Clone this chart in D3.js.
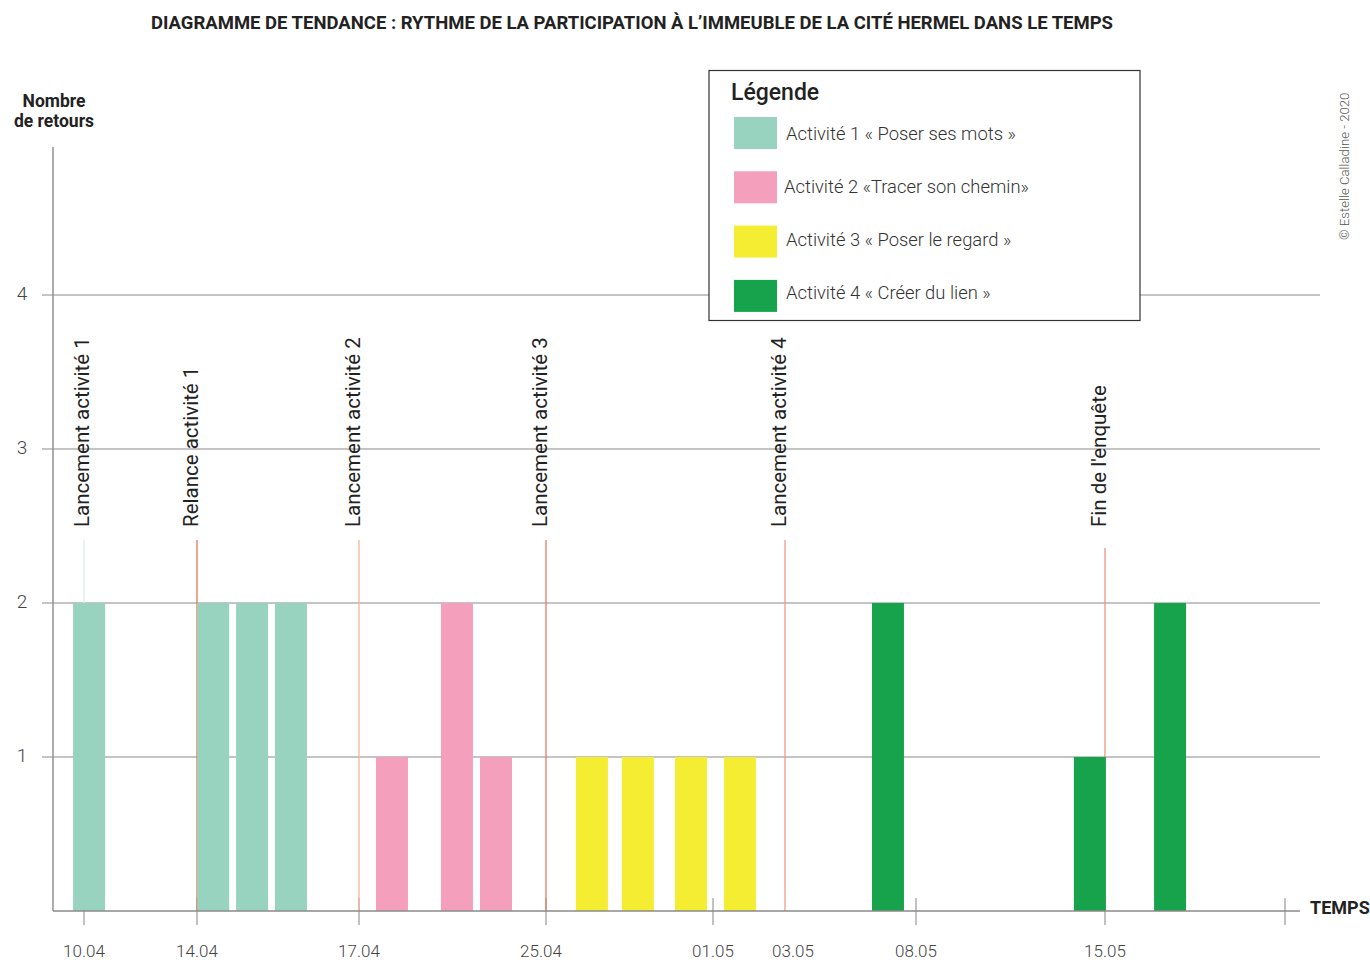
<!DOCTYPE html>
<html><head><meta charset="utf-8">
<script src="https://cdn.jsdelivr.net/npm/d3@7"></script>
<style>body{margin:0;background:#fff} svg{display:block} text{font-family:Roboto,"Noto Sans",sans-serif}</style>
</head><body>
<script>
// ---------- DATA ----------
const title = "DIAGRAMME DE TENDANCE : RYTHME DE LA PARTICIPATION À L’IMMEUBLE DE LA CITÉ HERMEL DANS LE TEMPS";
const yTitle = ["Nombre", "de retours"];
const xTitle = "TEMPS";
const credit = "© Estelle Calladine - 2020";
const activities = ["Activité 1 « Poser ses mots »", "Activité 2 «Tracer son chemin»", "Activité 3 « Poser le regard »", "Activité 4 « Créer du lien »"];
const tickLabels = ["10.04", "14.04", "17.04", "25.04", "01.05", "03.05", "08.05", "15.05", ""];
const tickDays   = [0, 4, 7, 15, 21, 23, 28, 35, 42];           // days after 10.04
const barDays    = [0.18, 4.3, 5.02, 5.74, 8.41, 11.19, 12.86, 16.65, 18.3, 20.21, 21.75, 26.93, 34.44, 37.53];
const barValues  = [2, 2, 2, 2, 1, 2, 1, 1, 1, 1, 1, 2, 1, 2];
const barActivity= [0, 0, 0, 0, 1, 1, 1, 2, 2, 2, 2, 3, 3, 3];
const eventLabels = ["Lancement activité 1", "Relance activité 1", "Lancement activité 2", "Lancement activité 3", "Lancement activité 4", "Fin de l'enquête"];
const eventDays   = [0, 4, 7, 15, 23, 35];
const yTicks = [1, 2, 3, 4];

// ---------- LAYOUT / STYLE ----------
const W = 1370, H = 960;
const activityColors = ["#98d3bf", "#f49fbb", "#f5ed31", "#17a34b"];
const eventColors = ["#dde9ec", "#e9735a", "#f8b3a0", "#ec7a60", "#f39a85", "#ef9480"];
const xStops = [84, 197, 359, 546, 713, 785, 916, 1105, 1285];
const untickedDays = [23];
const tickLabelDx = [0, 0, 0, -5, 0, 8, 0, 0, 0];
const eventLabelDx = [5, 1, 1, 1, 1, 1];
const barW = 32;

const svg = d3.select("body").append("svg").attr("width", W).attr("height", H);

const x = d3.scaleLinear().domain(tickDays).range(xStops);
const y = d3.scaleLinear().domain([0, 5]).range([911, 141]);

// title
svg.append("text").attr("x", 632).attr("y", 29).attr("text-anchor", "middle")
  .attr("font-size", 19).attr("font-weight", 700).attr("fill", "#222")
  .attr("textLength", 962).attr("lengthAdjust", "spacingAndGlyphs").text(title);

// y title
svg.append("g").selectAll("text").data(yTitle).join("text")
  .attr("text-anchor", "middle").attr("font-size", 17.5).attr("font-weight", 700).attr("fill", "#222")
  .attr("x", 54).attr("y", (d, i) => 107 + i * 20).text(d => d);

// gridlines
svg.append("g").selectAll("line").data(yTicks).join("line")
  .attr("x1", 42).attr("x2", 1320).attr("y1", d => y(d)).attr("y2", d => y(d))
  .attr("stroke", "#8a8a8a").attr("stroke-width", 1.2);
svg.append("g").selectAll("text").data(yTicks).join("text")
  .attr("x", 22).attr("y", d => y(d) + 5).attr("text-anchor", "middle")
  .attr("font-size", 19).attr("font-weight", 300).attr("fill", "#444").text(d => d);

// y axis
svg.append("line").attr("x1", 53).attr("x2", 53).attr("y1", 147).attr("y2", y(0))
  .attr("stroke", "#8a8a8a").attr("stroke-width", 1.4);

// ticks on x
svg.append("g").selectAll("line").data(tickDays.filter(d => !untickedDays.includes(d))).join("line")
  .attr("x1", d => x(d)).attr("x2", d => x(d)).attr("y1", 898).attr("y2", 925)
  .attr("stroke", "#999").attr("stroke-width", 1.2);

// event lines
svg.append("g").selectAll("line").data(eventDays).join("line")
  .attr("x1", d => x(d)).attr("x2", d => x(d))
  .attr("y1", (d, i) => i === eventDays.length - 1 ? 548 : 540).attr("y2", y(0))
  .attr("stroke", (d, i) => eventColors[i]).attr("stroke-width", 1.3);

// bars
svg.append("g").selectAll("rect").data(barDays).join("rect")
  .attr("x", d => x(d) - barW / 2).attr("width", barW)
  .attr("y", (d, i) => y(barValues[i])).attr("height", (d, i) => y(0) - y(barValues[i]))
  .attr("fill", (d, i) => activityColors[barActivity[i]]);

// x axis baseline
svg.append("line").attr("x1", 53).attr("x2", 1300).attr("y1", y(0)).attr("y2", y(0))
  .attr("stroke", "#8a8a8a").attr("stroke-width", 1.4);
svg.append("text").attr("x", 1310).attr("y", 914).attr("font-size", 18).attr("font-weight", 700)
  .attr("fill", "#222").text(xTitle);

// x tick labels
svg.append("g").selectAll("text").data(tickDays).join("text")
  .attr("x", (d, i) => x(d) + tickLabelDx[i]).attr("y", 957).attr("text-anchor", "middle")
  .attr("font-size", 17).attr("font-weight", 300).attr("fill", "#444").text((d, i) => tickLabels[i]);

// event labels
svg.append("g").selectAll("text").data(eventDays).join("text")
  .attr("transform", (d, i) => `translate(${x(d) + eventLabelDx[i]},527) rotate(-90)`)
  .attr("font-size", 20.5).attr("fill", "#222").text((d, i) => eventLabels[i]);

// legend
const lg = svg.append("g");
lg.append("rect").attr("x", 709).attr("y", 70.5).attr("width", 431).attr("height", 250)
  .attr("fill", "#fff").attr("stroke", "#333").attr("stroke-width", 1.2);
lg.append("text").attr("x", 731).attr("y", 100).attr("font-size", 23).attr("font-weight", 500)
  .attr("fill", "#222").text("Légende");
const items = lg.selectAll("g.item").data(activities).join("g").attr("class", "item")
  .attr("transform", (d, i) => `translate(734,${117 + i * 54.3})`);
items.append("rect").attr("width", 43).attr("height", 32).attr("fill", (d, i) => activityColors[i]);
items.append("text").attr("x", (d, i) => i === 1 ? 50 : 52).attr("y", (d, i) => 22.5 - i).attr("font-size", 18.4).attr("font-weight", 300)
  .attr("fill", "#333").text(d => d);

// credit
svg.append("text").attr("transform", "translate(1349,240) rotate(-90)")
  .attr("font-size", 13.2).attr("font-weight", 300).attr("fill", "#555").text(credit);
</script>
</body></html>
